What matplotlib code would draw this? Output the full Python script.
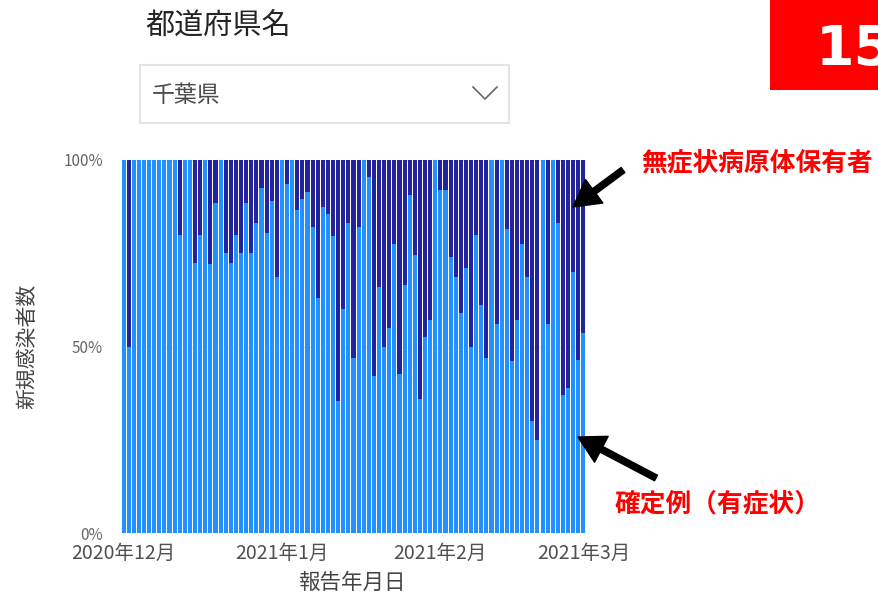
import matplotlib
matplotlib.use("Agg")
import matplotlib.pyplot as plt
import matplotlib.dates as mdates
from matplotlib.patches import Rectangle
from matplotlib.lines import Line2D
import pandas as pd

plt.rcParams["font.family"] = ["Noto Sans CJK JP", "DejaVu Sans"]

# 報告日（2020-12-01 〜 2021-03-01）
report_dates = pd.date_range("2020-12-01", "2021-03-01", freq="D")

# 確定例（有症状）の割合 [%]
symptomatic_pct = [
    100, 50, 100, 100, 100, 100, 100, 100, 100, 100,
    100, 80, 100, 100, 72.5, 80, 100, 72, 88.5, 100,
    75, 72.5, 80, 75, 88.5, 75, 83, 92.5, 80.5, 89,
    68.5, 100, 93.5, 100, 86.5, 89.5, 91.5, 82, 63, 87.5,
    85.5, 79.5, 35.5, 60, 83, 47, 82, 100, 95.5, 42,
    66, 50, 55, 77.5, 42.5, 66.5, 90.5, 74.5, 36, 52.5,
    57, 100, 92, 92, 74, 68.5, 59, 71, 50, 80,
    61, 47, 100, 56, 100, 81.5, 46, 57, 77.5, 68.5,
    30, 25, 100, 56, 100, 83, 37, 39, 70, 46.5,
    53.5,
]
# 無症状病原体保有者の割合 [%]（100%積み上げの残り）
asymptomatic_pct = [100 - v for v in symptomatic_pct]

y_ticks = [0, 50, 100]
y_tick_labels = ["0%", "50%", "100%"]
month_ticks = pd.to_datetime(["2020-12-01", "2021-01-01", "2021-02-01", "2021-03-01"])
month_labels = [f"{d.year}年{d.month}月" for d in month_ticks]

LIGHT = "#2290ff"
DARK = "#23239b"
W, H = 879, 595

fig = plt.figure(figsize=(W / 100, H / 100), dpi=100)


def fx(x):
    return x / W


def fy(y):
    return 1 - y / H


ax = fig.add_axes([fx(121), fy(533), 465 / W, 373 / H])
x = mdates.date2num(report_dates)
ax.bar(x, symptomatic_pct, width=0.8, color=LIGHT, linewidth=0, zorder=2)
ax.bar(x, asymptomatic_pct, bottom=symptomatic_pct, width=0.8, color=DARK,
       linewidth=0, zorder=2)

ax.set_xlim(x[0] - 0.5, x[-1] + 0.5)
ax.set_ylim(0, 100)
ax.set_yticks(y_ticks)
ax.set_yticklabels(y_tick_labels)
ax.set_xticks(mdates.date2num(month_ticks))
ax.set_xticklabels(month_labels)
ax.tick_params(axis="y", length=0, pad=13, labelsize=11, labelcolor="#666666")
ax.tick_params(axis="x", length=0, pad=7, labelsize=14, labelcolor="#505050")
for s in ax.spines.values():
    s.set_visible(False)
ax.set_axisbelow(True)
ax.yaxis.grid(True, color="#d8d8d8", linestyle=":", linewidth=0.8)

ax.set_ylabel("新規感染者数", fontsize=15, color="#444444", va="center")
ax.yaxis.set_label_coords((27 - 121) / 465, 0.5)
ax.set_xlabel("報告年月日", fontsize=15.5, color="#444444", va="center")
ax.xaxis.set_label_coords((352 - 121) / 465, (533 - 583) / 373)

# 都道府県名スライサー
fig.text(fx(145), fy(27), "都道府県名", fontsize=21, color="#252423",
         ha="left", va="center")
fig.add_artist(Rectangle((fx(140), fy(123)), 369 / W, 58 / H,
                         transform=fig.transFigure, facecolor="white",
                         edgecolor="#e3e3e3", linewidth=1.5))
fig.text(fx(152), fy(96), "千葉県", fontsize=16.5, color="#4a4a4a",
         ha="left", va="center")
fig.add_artist(Line2D([fx(473), fx(485), fx(497)], [fy(87), fy(99), fy(87)],
                      transform=fig.transFigure, color="#666666", linewidth=1.2))

# 右上の番号ラベル
fig.add_artist(Rectangle((fx(770), fy(90)), 120 / W, 95 / H,
                         transform=fig.transFigure, facecolor="#ff0000",
                         edgecolor="none"))
fig.text(fx(816), fy(50), "15", fontsize=40, fontweight="bold", color="white",
         ha="left", va="center", family="DejaVu Sans")

# 凡例代わりの注記
fig.text(fx(641), fy(163), "無症状病原体保有者", fontsize=18.5, fontweight="bold",
         color="#ff0000", ha="left", va="center")
fig.text(fx(615), fy(504), "確定例（有症状）", fontsize=18.5, fontweight="bold",
         color="#ff0000", ha="left", va="center")

arrow_kw = dict(facecolor="black", edgecolor="black", width=4.5,
                headwidth=21, headlength=19, shrink=0)
fig.add_artist(plt.Annotation("", xy=(fx(573), fy(207)), xytext=(fx(623), fy(170)),
                              xycoords="figure fraction",
                              textcoords="figure fraction", arrowprops=arrow_kw))
fig.add_artist(plt.Annotation("", xy=(fx(578), fy(437)), xytext=(fx(656), fy(478)),
                              xycoords="figure fraction",
                              textcoords="figure fraction", arrowprops=arrow_kw))

fig.savefig("out.png", dpi=100)
